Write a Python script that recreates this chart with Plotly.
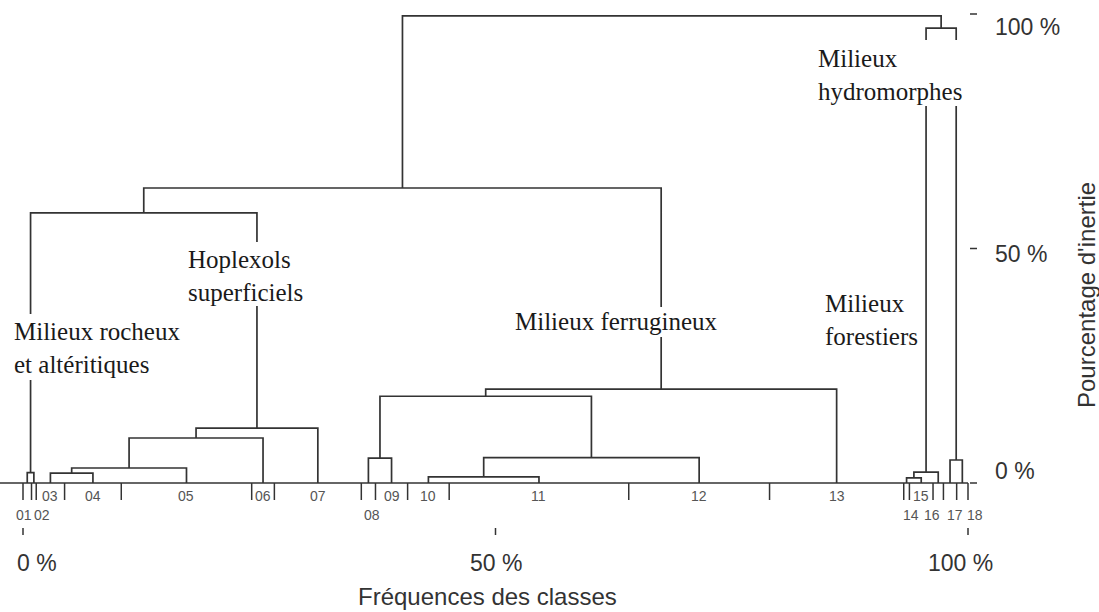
import plotly.graph_objects as go

# Classes du dendrogramme et fréquences (% des observations)
classes = ["01", "02", "03", "04", "05", "06", "07", "08", "09",
           "10", "11", "12", "13", "14", "15", "16", "17", "18"]
frequences = [0.9, 0.5, 3.0, 6.0, 13.8, 2.4, 9.2, 1.5, 3.4,
              4.4, 19.0, 14.9, 14.2, 0.6, 2.5, 1.1, 1.4, 1.2]

# Fusions successives (n<i> = noeud créé par la i-ème fusion), hauteur en % d'inertie
fusion_gauche = ["01", "03", "n1", "n2", "n3", "n0", "08", "10", "n7",
                 "n6", "n9", "n5", "14", "n12", "17", "n13", "n11"]
fusion_droite = ["02", "04", "05", "06", "07", "n4", "09", "11", "12",
                 "n8", "13", "n10", "15", "16", "18", "n14", "n15"]
fusion_inertie = [2.2, 2.1, 3.2, 9.6, 11.7, 57.6, 5.3, 1.3, 5.4,
                  18.5, 20.0, 62.9, 1.1, 2.3, 4.9, 97.0, 99.6]

axe_valeurs = [0, 50, 100]
axe_textes = ["0 %", "50 %", "100 %"]

W, H = 1099, 612
LINE = "#333333"
SANS = "Liberation Sans, Arial, sans-serif"
SERIF = "Liberation Serif, Times New Roman, serif"

# echelle : 0 % -> 23 px, 100 % -> 968 px ; inertie 0 % -> 483 px, 100 % -> 14 px
def px_x(px):
    return (px - 23) / 9.45

def px_y(py):
    return (483 - py) / 4.69

# bornes des classes
bornes = [0.0]
for f in frequences:
    bornes.append(bornes[-1] + f)
centres = [(bornes[i] + bornes[i + 1]) / 2 for i in range(len(classes))]

pos = {c: (x, 0.0) for c, x in zip(classes, centres)}
dx, dy = [], []
for i, (a, b, h) in enumerate(zip(fusion_gauche, fusion_droite, fusion_inertie)):
    xa, ya = pos[a]
    xb, yb = pos[b]
    dx += [xa, xa, xb, xb, None]
    dy += [ya, h, h, yb, None]
    pos[f"n{i}"] = ((xa + xb) / 2, h)

fig = go.Figure()

# ligne de base et limites des classes
tx, ty = [px_x(0), 100, None], [0, 0, None]
for b in bornes:
    tx += [b, b, None]
    ty += [0, px_y(500), None]
for v in axe_valeurs:
    tx += [v, v, None]
    ty += [px_y(528), px_y(535), None]
    tx += [px_x(970), px_x(977), None]
    ty += [v, v, None]
fig.add_trace(go.Scatter(x=tx, y=ty, mode="lines", line=dict(color=LINE, width=1.5),
                         hoverinfo="skip", showlegend=False))

fig.add_trace(go.Scatter(x=dx, y=dy, mode="lines", line=dict(color=LINE, width=1.7),
                         hoverinfo="skip", showlegend=False))

# masques blancs sous les étiquettes de groupes
masques = [(10, 314, 194, 380), (185, 242, 314, 306), (512, 307, 706, 337), (815, 40, 978, 106)]
for x0, y0, x1, y1 in masques:
    fig.add_shape(type="rect", xref="x", yref="y", x0=px_x(x0), x1=px_x(x1),
                  y0=px_y(y1), y1=px_y(y0), fillcolor="white", line=dict(width=0), layer="above")

ann = []
# étiquettes des classes
rang2 = {"01": -3, "02": 8, "08": 4, "14": 4, "16": -6, "17": 5, "18": 13}
for c, x in zip(classes, centres):
    if c in rang2:
        y, sh = px_y(515), rang2[c]
    else:
        y, sh = px_y(496), 0
    ann.append(dict(x=x, y=y, text=c, xshift=sh, showarrow=False,
                    font=dict(family=SANS, size=14, color="#555555")))

# étiquettes des groupes
groupes = [("Milieux rocheux<br>et altéritiques", 12, 348),
           ("Hoplexols<br>superficiels", 186, 276),
           ("Milieux ferrugineux", 513, 321),
           ("Milieux<br>forestiers", 823, 320),
           ("Milieux<br>hydromorphes", 816, 75)]
for t, x, y in groupes:
    ann.append(dict(x=px_x(x), y=px_y(y), text=t, xanchor="left", align="left",
                    showarrow=False, font=dict(family=SERIF, size=25, color="#1a1a1a")))

# axes
for v, t, sh in zip(axe_valeurs, axe_textes, [14, 0, -8]):
    ann.append(dict(x=v, y=px_y(563), text=t, xshift=sh, showarrow=False,
                    font=dict(family=SANS, size=23, color="#333333")))
for v, t, sh in zip(axe_valeurs, axe_textes, [12, -5, -13]):
    ann.append(dict(x=px_x(993), y=v, text=t, yshift=sh, xanchor="left", showarrow=False,
                    font=dict(family=SANS, size=23, color="#333333")))
ann.append(dict(x=px_x(487), y=px_y(596), text="Fréquences des classes", showarrow=False,
                font=dict(family=SANS, size=24, color="#333333")))
ann.append(dict(x=px_x(1086), y=px_y(295), text="Pourcentage d'inertie", textangle=-90,
                showarrow=False, font=dict(family=SANS, size=24, color="#333333")))

fig.update_layout(
    width=W, height=H, margin=dict(l=0, r=0, t=0, b=0),
    paper_bgcolor="white", plot_bgcolor="white", showlegend=False,
    xaxis=dict(range=[px_x(0), px_x(W)], visible=False),
    yaxis=dict(range=[px_y(H), px_y(0)], visible=False),
    annotations=ann,
)

fig.write_html("out.html", config={"displayModeBar": False},
               post_script="document.body.style.margin='0';")
